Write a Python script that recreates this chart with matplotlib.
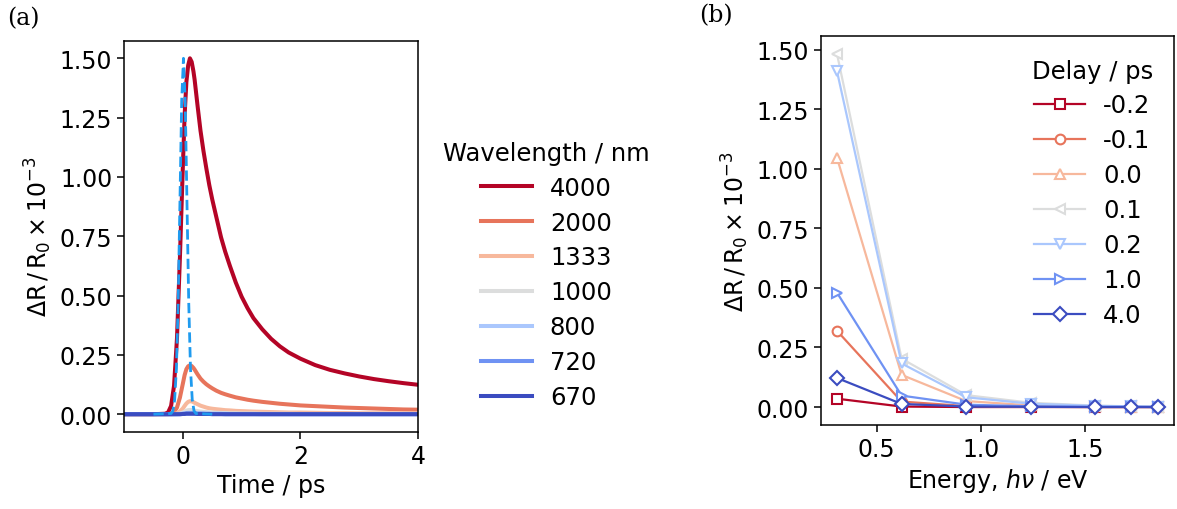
import numpy as np
import matplotlib
matplotlib.use('Agg')
import matplotlib.pyplot as plt

# (a) transient reflectance vs time, one curve per probe wavelength
wavelengths = ['4000', '2000', '1333', '1000', '800', '720', '670']
time_ps = [-1, -0.5, -0.3, -0.25, -0.2, -0.15, -0.1, -0.05, 0, 0.03, 0.06, 0.09, 0.12, 0.15,
           0.18, 0.2, 0.25, 0.3, 0.35, 0.4, 0.45, 0.5, 0.57, 0.65, 0.72, 0.8, 0.9, 1.0, 1.1,
           1.2, 1.35, 1.5, 1.65, 1.8, 2.0, 2.25, 2.5, 2.75, 3.0, 3.25, 3.5, 3.75, 4.0]
dr_4000 = [0, 0, 0.002, 0.008, 0.035, 0.12, 0.32, 0.66, 1.046, 1.26, 1.40, 1.47, 1.50, 1.485,
           1.445, 1.41, 1.30, 1.195, 1.11, 1.035, 0.965, 0.905, 0.83, 0.745, 0.685, 0.625, 0.555, 0.495, 0.447,
           0.405, 0.358, 0.318, 0.286, 0.26, 0.234, 0.207, 0.187, 0.172, 0.159, 0.148, 0.139, 0.131, 0.124]
dr_2000 = [0, 0, 0, 0.0005, 0.002, 0.009, 0.028, 0.07, 0.129, 0.165, 0.19, 0.202, 0.206, 0.203,
           0.195, 0.188, 0.168, 0.150, 0.137, 0.126, 0.117, 0.109, 0.099, 0.09, 0.084, 0.078, 0.071, 0.066, 0.061,
           0.057, 0.052, 0.048, 0.044, 0.041, 0.037, 0.034, 0.031, 0.028, 0.026, 0.024, 0.022, 0.020, 0.019]
dr_1333 = [0, 0, 0, 0, 0, 0.001, 0.004, 0.012, 0.024, 0.035, 0.045, 0.052, 0.055, 0.054,
           0.051, 0.048, 0.042, 0.036, 0.032, 0.028, 0.025, 0.023, 0.021, 0.019, 0.017, 0.016, 0.014, 0.013, 0.012,
           0.011, 0.010, 0.009, 0.008, 0.007, 0.007, 0.006, 0.005, 0.005, 0.004, 0.004, 0.004, 0.003, 0.003]
dr_1000 = [0, 0, 0, 0, 0, 0, 0.001, 0.003, 0.007, 0.011, 0.015, 0.017, 0.018, 0.018,
           0.016, 0.015, 0.013, 0.011, 0.010, 0.009, 0.008, 0.007, 0.006, 0.005, 0.005, 0.004, 0.004, 0.003, 0.003,
           0.003, 0.002, 0.002, 0.002, 0.002, 0.001, 0.001, 0.001, 0.001, 0.001, 0.001, 0.001, 0.001, 0.001]
dr_800 = [0, 0, 0, 0, 0, 0, 0, 0.001, 0.003, 0.004, 0.005, 0.006, 0.006, 0.006,
          0.005, 0.005, 0.004, 0.004, 0.003, 0.003, 0.003, 0.002, 0.002, 0.002, 0.002, 0.001, 0.001, 0.001, 0.001,
          0.001, 0, 0, 0, 0, 0, 0, 0, 0, 0, 0, 0, 0, 0]
dr_720 = [0, 0, 0, 0, 0, 0, 0, 0, 0.001, 0.002, 0.003, 0.003, 0.003, 0.003,
          0.003, 0.003, 0.002, 0.002, 0.002, 0.001, 0.001, 0.001, 0.001, 0.001, 0, 0, 0, 0, 0,
          0, 0, 0, 0, 0, 0, 0, 0, 0, 0, 0, 0, 0, 0]
dr_670 = [0, 0, 0, 0, 0, 0, 0, 0, 0.001, 0.001, 0.002, 0.002, 0.002, 0.002,
          0.002, 0.002, 0.001, 0.001, 0.001, 0.001, 0.001, 0, 0, 0, 0, 0, 0, 0, 0,
          0, 0, 0, 0, 0, 0, 0, 0, 0, 0, 0, 0, 0, 0]
curves = [dr_4000, dr_2000, dr_1333, dr_1000, dr_800, dr_720, dr_670]

# pump pulse (dashed)
pulse_t = [-0.5, -0.2, -0.17, -0.14, -0.11, -0.08, -0.05, -0.02, 0.01, 0.04, 0.07, 0.1,
           0.13, 0.16, 0.19, 0.22, 0.5]
pulse_v = [0, 0.003, 0.014, 0.06, 0.19, 0.47, 0.89, 1.32, 1.5, 1.32, 0.89, 0.47,
           0.19, 0.06, 0.014, 0.003, 0]

# (b) spectra at fixed delays
energy_ev = [0.31, 0.62, 0.93, 1.24, 1.55, 1.72, 1.85]
delays = ['-0.2', '-0.1', '0.0', '0.1', '0.2', '1.0', '4.0']
spec_m02 = [0.035, 0.002, 0.0, 0.0, 0.0, 0.0, 0.0]
spec_m01 = [0.320, 0.023, 0.004, 0.001, 0.0, 0.0, 0.0]
spec_00 = [1.046, 0.135, 0.025, 0.007, 0.003, 0.001, 0.001]
spec_01 = [1.482, 0.203, 0.050, 0.018, 0.006, 0.003, 0.002]
spec_02 = [1.409, 0.183, 0.041, 0.014, 0.005, 0.003, 0.002]
spec_10 = [0.480, 0.048, 0.010, 0.003, 0.001, 0.001, 0.0]
spec_40 = [0.122, 0.013, 0.002, 0.001, 0.0, 0.0, 0.0]
spectra = [spec_m02, spec_m01, spec_00, spec_01, spec_02, spec_10, spec_40]
markers = ['s', 'o', '^', '<', 'v', '>', 'D']

plt.rcParams['font.size'] = 17
plt.rcParams['xtick.major.size'] = 5
plt.rcParams['ytick.major.size'] = 5
plt.rcParams['xtick.major.width'] = 1.1
plt.rcParams['ytick.major.width'] = 1.1
plt.rcParams['axes.linewidth'] = 1.1
colors = plt.cm.coolwarm_r(np.linspace(0, 1, 7))
ylab = r'$\Delta\mathrm{R}\,/\,\mathrm{R}_0 \times 10^{-3}$'

fig = plt.figure(figsize=(11.77, 5.10), dpi=100)

ax1 = fig.add_axes([0.1054, 0.151, 0.2498, 0.7676])
for lab, y, c in zip(wavelengths, curves, colors):
    ax1.plot(time_ps, y, color=c, lw=2.9, label=lab)
ax1.plot(pulse_t, pulse_v, '--', color='#1f9bef', lw=2)
ax1.set_xlim(-1, 4)
ax1.set_xticks([0, 2, 4])
ax1.set_yticks([0, 0.25, 0.5, 0.75, 1.0, 1.25, 1.5])
ax1.set_xlabel('Time / ps')
ax1.set_ylabel(ylab)
leg1 = ax1.legend(title='Wavelength / nm', frameon=False, handlelength=2.1, handletextpad=0.75,
                  labelspacing=0.45, loc='center', bbox_to_anchor=(0.464, 0.459),
                  bbox_transform=fig.transFigure, fontsize=17.5, title_fontsize=17.5)

ax2 = fig.add_axes([0.6975, 0.1653, 0.2999, 0.7616])
for lab, y, c, m in zip(delays, spectra, colors, markers):
    ax2.plot(energy_ev, y, color=c, lw=1.6, marker=m, mfc='white', mec=c, mew=1.5,
             ms=7, label=lab)
ax2.set_xticks([0.5, 1.0, 1.5])
ax2.set_yticks([0, 0.25, 0.5, 0.75, 1.0, 1.25, 1.5])
ax2.set_xlabel(r'Energy, $h\nu$ / eV')
ax2.set_ylabel(ylab)
ax2.legend(title='Delay / ps', frameon=False, handlelength=2.1, handletextpad=0.75,
           labelspacing=0.45, loc='center', bbox_to_anchor=(0.928, 0.62),
           bbox_transform=fig.transFigure, fontsize=17.5, title_fontsize=17.5)

fig.text(0.006, 0.964, '(a)', family='DejaVu Serif', fontsize=17, va='center')
fig.text(0.594, 0.97, '(b)', family='DejaVu Serif', fontsize=17, va='center')

fig.savefig('out.png', dpi=100)
